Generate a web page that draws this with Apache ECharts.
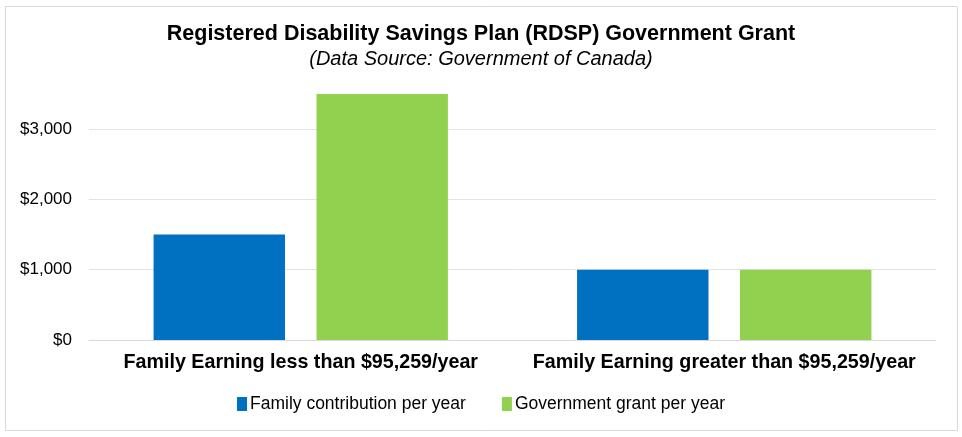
<!DOCTYPE html>
<html><head><meta charset="utf-8">
<script src="https://cdn.jsdelivr.net/npm/echarts@6/dist/echarts.min.js"></script>
<style>html,body{margin:0;padding:0;background:#fff}#c{width:962px;height:437px}</style>
</head><body><div id="c"></div>
<script>
const categories = ['Family Earning less than $95,259/year', 'Family Earning greater than $95,259/year'];
const familyContribution = [1500, 1000];
const governmentGrant = [3500, 1000];
const seriesNames = ['Family contribution per year', 'Government grant per year'];

const chart = echarts.init(document.getElementById('c'), null, {renderer: 'canvas'});
chart.setOption({
  animation: false,
  backgroundColor: '#fff',
  graphic: [{type: 'rect', shape: {x: 5.5, y: 6.5, width: 952, height: 424}, style: {fill: 'none', stroke: '#d9d9d9', lineWidth: 1}, silent: true}],
  title: {
    text: 'Registered Disability Savings Plan (RDSP) Government Grant',
    subtext: '(Data Source: Government of Canada)',
    left: 'center', top: 18, itemGap: 4,
    textStyle: {fontFamily: 'Liberation Sans, Arial', fontWeight: 'bold', fontSize: 21.5, color: '#000'},
    subtextStyle: {fontFamily: 'Liberation Sans, Arial', fontStyle: 'italic', fontSize: 20, color: '#000'}
  },
  legend: {
    bottom: 19, left: 'center', itemWidth: 10, itemHeight: 14, itemGap: 36,
    icon: 'rect',
    textStyle: {fontFamily: 'Liberation Sans, Arial', fontSize: 17.5, color: '#000', padding: [0,0,0,-2]},
    data: seriesNames
  },
  grid: {left: 89, right: 26, top: 94, bottom: 97, containLabel: false},
  xAxis: {
    type: 'category', data: categories,
    axisLine: {lineStyle: {color: '#d9d9d9'}}, axisTick: {show: false},
    axisLabel: {interval: 0, margin: 13, fontFamily: 'Liberation Sans Narrow, Arial Narrow, Liberation Sans', fontWeight: 'bold', fontSize: 19.7, color: '#000'}
  },
  yAxis: {
    type: 'value', min: 0, max: 3500, interval: 1000,
    axisLine: {show: false}, axisTick: {show: false},
    axisLabel: {showMaxLabel: false, margin: 17, fontFamily: 'Liberation Sans, Arial', fontSize: 17, color: '#000',
      formatter: v => '$' + v.toLocaleString('en-US')},
    splitLine: {showMaxLine: false, lineStyle: {color: '#e3e3e3'}}
  },
  series: [
    {name: seriesNames[0], type: 'bar', data: familyContribution, itemStyle: {color: '#0070C0'}, barGap: '24%', barCategoryGap: '30.5%'},
    {name: seriesNames[1], type: 'bar', data: governmentGrant, itemStyle: {color: '#92D050'}}
  ]
});
</script></body></html>
